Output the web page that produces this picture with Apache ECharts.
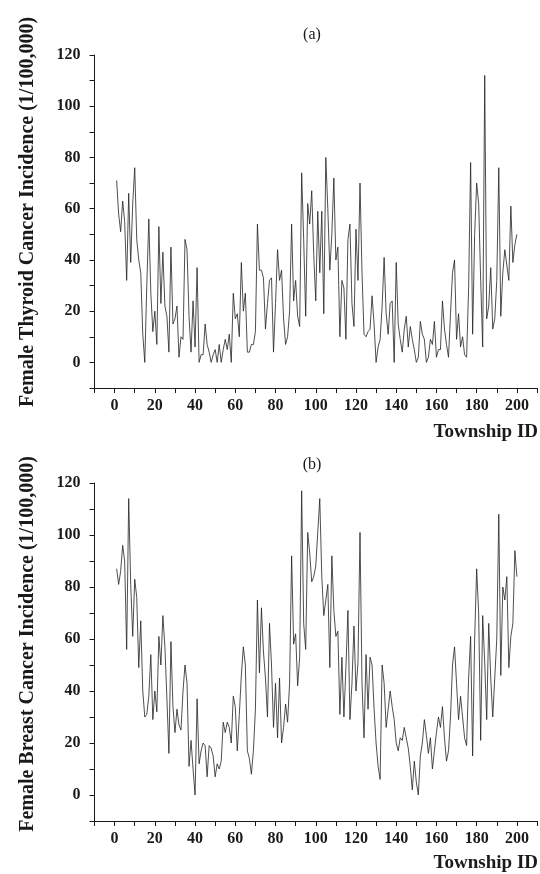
<!DOCTYPE html>
<html style="height: 100%" lang="en">
<head>
    <meta charset="UTF-8">
    <title>Female Thyroid / Breast Cancer Incidence by Township</title>
</head>
<body style="height: 100%; margin: 0; background: #fff">
<div id="main" style="width: 540px; height: 874px"></div>

<script src="https://cdn.jsdelivr.net/npm/echarts@6/dist/echarts.min.js"></script>
<script type="text/javascript">

    // township ids 1..200
    var townshipIds = Array.from({length: 200}, function (_, i) { return i + 1; });

    // (a) female thyroid cancer incidence, 1/100,000
    var thyroid = [
        71, 58, 51, 63, 55, 32, 66, 39, 62, 76,
        48, 40, 35, 11, 0, 30, 56, 27, 12, 20,
        7, 53, 23, 43, 22, 18, 4, 45, 15, 17,
        22, 2, 10, 9, 48, 44, 18, 4, 24, 6,
        37, 0, 3, 3, 15, 7, 4, 0, 3, 5,
        0, 7, 0, 5, 9, 5, 11, 0, 27, 17,
        19, 10, 39, 20, 27, 4, 4, 7, 7, 12,
        54, 36, 36, 33, 13, 23, 32, 33, 4, 23,
        44, 32, 36, 17, 7, 10, 20, 54, 24, 32,
        18, 14, 74, 48, 18, 62, 54, 67, 42, 24,
        59, 35, 59, 19, 80, 60, 36, 50, 72, 40,
        45, 10, 32, 29, 9, 48, 54, 23, 14, 52,
        32, 70, 35, 11, 10, 12, 13, 26, 15, 0,
        6, 9, 22, 41, 19, 11, 23, 24, 0, 39,
        15, 9, 4, 13, 18, 6, 14, 9, 5, 0,
        2, 16, 11, 9, 0, 2, 9, 7, 16, 2,
        5, 5, 24, 13, 7, 2, 19, 35, 40, 9,
        19, 6, 10, 3, 2, 29, 78, 11, 50, 70,
        62, 32, 6, 112, 17, 22, 37, 13, 17, 32,
        76, 18, 35, 44, 38, 32, 61, 39, 46, 50
    ];

    // (b) female breast cancer incidence, 1/100,000
    var breast = [
        87, 81, 86, 96, 90, 56, 114, 81, 61, 83,
        76, 49, 67, 40, 30, 31, 38, 54, 29, 40,
        32, 61, 50, 69, 57, 37, 16, 59, 34, 24,
        33, 27, 25, 40, 50, 43, 11, 21, 10, 0,
        37, 12, 17, 20, 19, 7, 19, 18, 15, 7,
        12, 10, 13, 28, 24, 28, 26, 20, 38, 34,
        17, 31, 46, 57, 50, 17, 14, 8, 17, 33,
        75, 47, 72, 55, 45, 30, 66, 50, 26, 43,
        22, 45, 20, 26, 35, 28, 43, 92, 58, 62,
        42, 53, 117, 66, 56, 101, 93, 82, 84, 88,
        101, 114, 84, 69, 75, 81, 49, 92, 71, 61,
        63, 31, 53, 30, 49, 71, 29, 43, 65, 40,
        51, 101, 43, 22, 54, 33, 53, 50, 33, 20,
        11, 6, 50, 43, 26, 33, 40, 34, 29, 20,
        17, 22, 21, 26, 22, 18, 11, 2, 13, 5,
        0, 15, 20, 29, 23, 16, 22, 10, 17, 24,
        30, 26, 34, 22, 13, 17, 30, 50, 57, 43,
        29, 38, 30, 22, 19, 45, 61, 15, 60, 87,
        70, 21, 69, 51, 29, 66, 45, 30, 45, 60,
        108, 46, 80, 75, 84, 49, 61, 66, 94, 84
    ];

    var panelTitles = ['(a)', '(b)'];
    var yTitles = ['Female Thyroid Cancer Incidence (1/100,000)', 'Female Breast Cancer Incidence (1/100,000)'];
    var xTitle = 'Township ID';

    var serif = '"Liberation Serif", "Times New Roman", serif';
    var ink = '#1a1a1a';

    function pairs(vals) {
        return vals.map(function (v, i) { return [townshipIds[i], v]; });
    }

    function xAxisFor(idx) {
        return {
            type: 'value', gridIndex: idx, min: -10, max: 210, interval: 10,
            axisLine: {show: true, onZero: false, lineStyle: {color: ink, width: 1}},
            axisTick: {show: true, length: 5, lineStyle: {color: ink}},
            splitLine: {show: false},
            axisLabel: {
                margin: 10, color: ink, fontFamily: serif, fontWeight: 'bold', fontSize: 16,
                formatter: function (v) { return v >= 0 && v % 20 === 0 ? String(v) : ''; }
            }
        };
    }

    function yAxisFor(idx) {
        return {
            type: 'value', gridIndex: idx, min: -10, max: 120, interval: 10,
            axisLine: {show: true, onZero: false, lineStyle: {color: ink, width: 1}},
            axisTick: {show: true, length: 5, lineStyle: {color: ink}},
            splitLine: {show: false},
            axisLabel: {
                margin: 14, color: ink, fontFamily: serif, fontWeight: 'bold', fontSize: 16,
                formatter: function (v) { return v >= 0 && v % 20 === 0 ? String(v) : ''; }
            }
        };
    }

    function txt(x, y, s, opt) {
        return {
            type: 'text', x: x, y: y, rotation: opt.rot || 0,
            style: {
                text: s, fill: ink, font: (opt.weight || 'bold') + ' ' + opt.size + 'px ' + serif,
                textAlign: opt.align || 'center', textVerticalAlign: 'middle'
            }
        };
    }

    var myChart = echarts.init(document.getElementById('main'), null, {renderer: 'canvas'});
    var option = {
        animation: false,
        backgroundColor: '#fff',
        grid: [
            {left: 94.5, right: -5.5, top: 55, height: 333},
            {left: 94.5, right: -5.5, top: 483, height: 338}
        ],
        xAxis: [xAxisFor(0), xAxisFor(1)],
        yAxis: [yAxisFor(0), yAxisFor(1)],
        series: [
            {
                type: 'line', xAxisIndex: 0, yAxisIndex: 0, data: pairs(thyroid),
                symbol: 'none', lineStyle: {color: '#222', width: 0.8}
            },
            {
                type: 'line', xAxisIndex: 1, yAxisIndex: 1, data: pairs(breast),
                symbol: 'none', lineStyle: {color: '#222', width: 0.8}
            }
        ],
        graphic: [
            txt(312, 35, panelTitles[0], {size: 16, weight: 'normal'}),
            txt(312, 465, panelTitles[1], {size: 16, weight: 'normal'}),
            txt(28, 212, yTitles[0], {size: 20, rot: Math.PI / 2}),
            txt(28, 644, yTitles[1], {size: 20, rot: Math.PI / 2}),
            txt(538, 432, xTitle, {size: 19, align: 'right'}),
            txt(538, 863, xTitle, {size: 19, align: 'right'})
        ]
    };
    myChart.setOption(option);

</script>
</body>
</html>
